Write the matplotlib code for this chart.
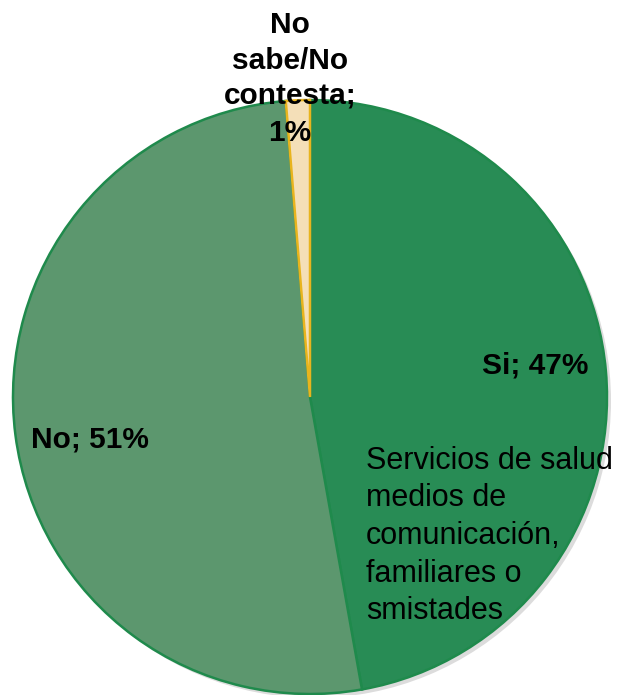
import matplotlib
matplotlib.use("Agg")
import matplotlib.pyplot as plt
from matplotlib.patches import Wedge

categories = ["Si", "No", "No sabe/No contesta"]
values = [47.2, 51.5, 1.3]
labels = ["Si; 47%", "No; 51%", "No\nsabe/No\ncontesta;\n1%"]
colors = ["#288c55", "#5c976e", "#f4dfb8"]
edges = ["#1f8a4c", "#1f8a4c", "#e8b41e"]

W, H = 621, 695
fig = plt.figure(figsize=(W / 100, H / 100), dpi=100)
ax = fig.add_axes([0, 0, 1, 1])

cx, cy, r = 310, H - 397, 297

# soft shadow
ax.add_patch(Wedge((cx + 4, cy - 4), r, 0, 360, facecolor="#dcdcdc", edgecolor="none", zorder=0))

wedges, _ = ax.pie(values, colors=colors, startangle=90, counterclock=False,
                   center=(cx, cy), radius=r,
                   wedgeprops=dict(linewidth=1.8))
for w, ec in zip(wedges, edges):
    w.set_edgecolor(ec)
    w.set_zorder(2)
wedges[2].set_zorder(3)

ax.set_xlim(0, W)
ax.set_ylim(0, H)
ax.set_aspect("equal")
ax.axis("off")

font = "Liberation Sans"
ax.text(535, H - 365, labels[0], ha="center", va="center", fontsize=21.5,
        fontweight="bold", family=font, zorder=5)
ax.text(90, H - 440, labels[1], ha="center", va="center", fontsize=21.5,
        fontweight="bold", family=font, zorder=5)
ax.text(290, H - 79, labels[2], ha="center", va="center", fontsize=21.5,
        fontweight="bold", family=font, linespacing=1.35, zorder=5)
ax.text(366, H - 536, "Servicios de salud\nmedios de\ncomunicación,\nfamiliares o\nsmistades",
        ha="left", va="center", fontsize=22, family=font, linespacing=1.33, zorder=5)

fig.savefig("out.png", dpi=100)
